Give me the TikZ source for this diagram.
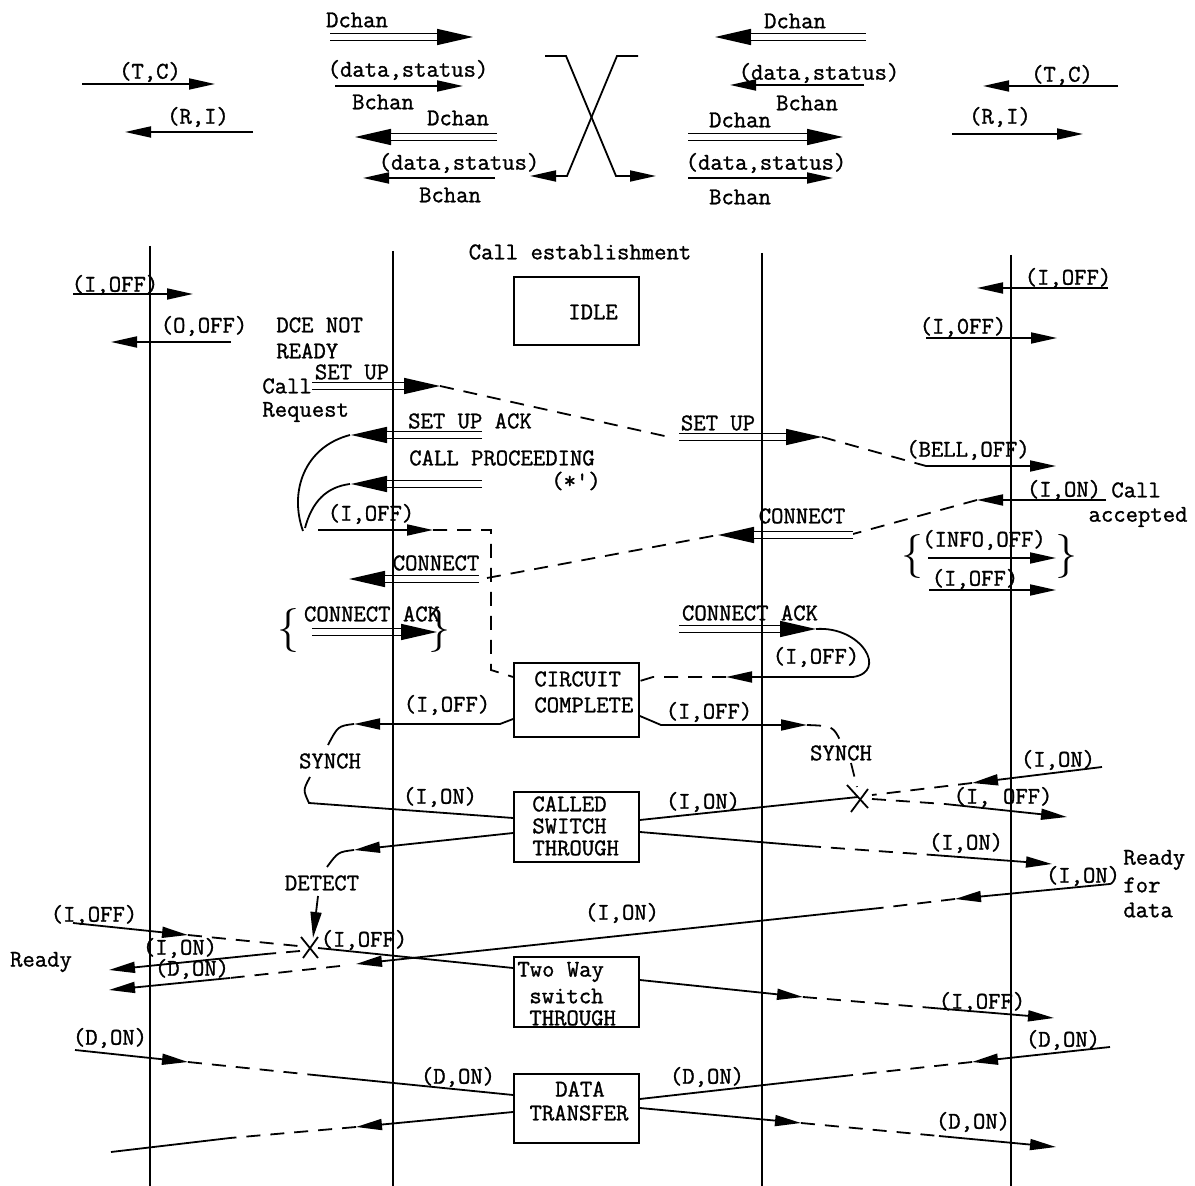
\documentclass[tikz,border=0pt]{standalone}
\usepackage{fontspec}
\newfontfamily\cour{Latin Modern Mono}[FakeBold=1.2]
\usetikzlibrary{arrows.meta,calc}
\newcommand\DA[2]{%
  \draw[dtip] ($#2!20pt!#1$) -- #2;
  \draw[dbl] #1 -- ($#2!18pt!#1$);
}
\begin{document}
\begin{tikzpicture}[x=0.5pt,y=-0.5pt,
  lbl/.style={font=\cour\fontsize{12}{12}\selectfont, inner sep=0pt},
  ln/.style={line width=0.9pt},
  ar/.style={ln,-{Triangle[length=13pt,width=5.5pt]}},
  dsh/.style={ln,dash pattern=on 7pt off 5pt},
  dbl/.style={double,double distance=2.6pt,line width=0.8pt},
  dtip/.style={line width=0.8pt,-{Triangle[length=18pt,width=8pt]}},
  box/.style={draw,line width=0.9pt,minimum width=62.5pt,inner sep=0pt},
  life/.style={line width=1pt},
  brace/.style={font=\fontsize{22}{22}\selectfont, inner sep=0pt}
]
\useasboundingbox (0,0) rectangle (1195,1186);

% ---------- legend, left ----------
\node[lbl] (tcA) at (150,72) {(T,C)};
\draw[ar] (82,84) -- (215,84);
\node[lbl] (riA) at (198,117) {(R,I)};
\draw[ar] (253,132) -- (125,132);
\node[lbl] (dchA) at (357,20) {Dchan};
\DA{(330,37)}{(473,37)}
\node[lbl] (dsA) at (408,70) {(data,status)};
\draw[ar] (335,86) -- (463,86);
\node[lbl] (bchA) at (383,102) {Bchan};
\node[lbl] (dchB) at (458,118) {Dchan};
\DA{(497,137)}{(355,137)}
\node[lbl] (dsB) at (459,163) {(data,status)};
\draw[ar] (495,178) -- (363,178);
\node[lbl] (bchB) at (450,195) {Bchan};

% crossing
\draw[ar] (545,56) -- (566,56) -- (616,176) -- (656,176);
\draw[ar] (638,56) -- (617,56) -- (567,176) -- (530,176);

% ---------- legend, right ----------
\node[lbl] (dchC) at (795,21) {Dchan};
\DA{(866,37)}{(715,37)}
\node[lbl] (dsC) at (819,73) {(data,status)};
\draw[ar] (864,85) -- (730,85);
\node[lbl] (bchC) at (807,103) {Bchan};
\node[lbl] (dchD) at (740,120) {Dchan};
\DA{(688,137)}{(843,137)}
\node[lbl] (dsD) at (766,163) {(data,status)};
\draw[ar] (688,178) -- (833,178);
\node[lbl] (bchD) at (740,197) {Bchan};
\node[lbl] (tcB) at (1062,75) {(T,C)};
\draw[ar] (1118,86) -- (983,86);
\node[lbl] (riB) at (1000,117) {(R,I)};
\draw[ar] (952,134) -- (1083,134);

% ---------- boxes ----------
\node[lbl] (title) at (580,252) {Call establishment};
\node[box,minimum height=34pt] (idle) at (576.5,311) {};
\node[lbl] at (593,312) {IDLE};
\node[box,minimum height=37pt] (circ) at (576.5,700) {};
\node[lbl,anchor=west] at (534,679) {CIRCUIT};
\node[lbl,anchor=west] at (534,705) {COMPLETE};
\node[box,minimum height=35pt] (called) at (576.5,827) {};
\node[lbl,anchor=west] at (532,804) {CALLED};
\node[lbl,anchor=west] at (532,826) {SWITCH};
\node[lbl,anchor=west] at (532,848) {THROUGH};
\node[box,minimum height=35pt] (twoway) at (576.5,992) {};
\node[lbl,anchor=west] at (517,972) {Two Way};
\node[lbl,anchor=west] at (529,996) {switch};
\node[lbl,anchor=west] at (529,1018) {THROUGH};
\node[box,minimum height=34.5pt] (data) at (576.5,1108.5) {};
\node[lbl] at (580,1089) {DATA};
\node[lbl] at (579,1113) {TRANSFER};

% ---------- left side ----------
\node[lbl] at (115,285) {(I,OFF)};
\draw[ar] (73,294) -- (193,294);
\node[lbl] at (204,326) {(O,OFF)};
\draw[ar] (231,342) -- (111,342);
\node[lbl,anchor=west] at (276,325) {DCE NOT};
\node[lbl,anchor=west] at (276,351) {READY};
\node[lbl,anchor=west] at (262,386) {Call};
\node[lbl,anchor=west] at (262,412) {Request};
\node[lbl] at (352,372) {SET UP};
\DA{(312,386)}{(440,386)}
\draw[dsh] (440,386) -- (669,437);
\node[lbl] at (470,421) {SET UP ACK};
\DA{(482,435)}{(351,435)}
\node[lbl] at (502,458) {CALL PROCEEDING};
\node[lbl] at (576,481) {(*')};
\DA{(482,484)}{(351,484)}
\draw[ln] (303,531) .. controls (289,492) and (304,447) .. (350,435);
\draw[ln] (305,528) .. controls (312,502) and (326,487) .. (350,484);
\node[lbl] at (371,514) {(I,OFF)};
\draw[ar] (318,530) -- (433,530);
\draw[dsh] (433,530) -- (491,530) -- (491,670) -- (circ.west |- 0,677);
\node[lbl] at (436,563) {CONNECT};
\DA{(479,579)}{(349,579)}
\draw[dsh] (487,578) -- (718,535);
\node[brace] at (288,631) {\{};
\node[lbl] at (372,614) {CONNECT ACK};
\DA{(312,632)}{(437,632)}
\node[brace] at (439,631) {\}};

% ---------- right side ----------
\node[lbl] at (1068,278) {(I,OFF)};
\draw[ar] (1108,288) -- (977,288);
\node[lbl] at (963,327) {(I,0FF)};
\draw[ar] (926,338) -- (1057,338);
\node[lbl] at (718,423) {SET UP};
\DA{(679,437)}{(822,437)}
\draw[dsh] (822,437) -- (926,466);
\node[lbl] at (968,450) {(BELL,OFF)};
\draw[ar] (926,466) -- (1056,466);
\node[lbl] at (1064,490) {(I,ON)};
\draw[ar] (1106,500) -- (977,500);
\node[lbl,anchor=west] at (1111,490) {Call};
\node[lbl] at (1138,517) {accepted};
\draw[dsh] (977,500) -- (853,534);
\node[lbl] at (802,516) {CONNECT};
\DA{(853,535)}{(718,535)}
\node[brace] at (912,557) {\{};
\node[lbl] at (984,540) {(INFO,OFF)};
\draw[ar] (928,558) -- (1056,558);
\node[brace] at (1066,557) {\}};
\node[lbl] at (975,579) {(I,OFF)};
\draw[ar] (929,590) -- (1056,590);
\node[lbl] at (750,613) {CONNECT ACK};
\DA{(679,629)}{(816,629)}
\draw[ln] (816,629) .. controls (862,626) and (888,672) .. (853,677);
\node[lbl] at (816,657) {(I,OFF)};
\draw[ar] (853,677) -- (726,677);
\draw[dsh] (726,677) -- (653,677) -- (circ.east |- 0,681);

% ---------- circuit complete ----------
\node[lbl] at (447,705) {(I,OFF)};
\draw[ar] (circ.west |- 0,719) -- (500,724) -- (354,724);
\draw[ln] (354,724) .. controls (338,726) .. (328,745);
\node[lbl] at (330,761) {SYNCH};
\draw[ln] (310,777) .. controls (303,790) .. (309,803) -- (called.west |- 0,818);
\node[lbl] at (440,797) {(I,ON)};

\node[lbl] at (709,712) {(I,OFF)};
\draw[ar] (circ.east |- 0,716) -- (661,725) -- (807,725);
\draw[dsh] (807,725) .. controls (833,726) .. (841,742);
\node[lbl] at (841,753) {SYNCH};
\draw[dsh] (851,763) -- (857,787);
\draw[ln] (847,785) -- (868,808);
\draw[ln] (868,789) -- (851,812);
\node[lbl] at (703,802) {(I,ON)};
\draw[ln] (called.east |- 0,820) -- (858,797);
\node[lbl] at (1058,760) {(I,ON)};
\draw[ar] (1102,767) -- (972,783);
\draw[dsh] (972,783) -- (872,795);
\draw[dsh] (872,799) -- (945,804);
\draw[ar] (945,804) -- (1067,817);
\node[lbl] at (1003,797) {(I, OFF)};

% ---------- called switch through ----------
\draw[ar] (called.west |- 0,833) -- (354,850);
\draw[ln] (354,850) .. controls (338,852) .. (327,867);
\node[lbl] at (322,883) {DETECT};
\draw[ar] (318,896) -- (313,938);
\draw[ln] (called.east |- 0,832) -- (807,846);
\draw[dsh] (807,846) -- (933,855);
\draw[ar] (933,855) -- (1052,864);
\node[lbl] at (966,843) {(I,ON)};

\node[lbl,anchor=west] at (1123,860) {Ready};
\node[lbl,anchor=west] at (1123,885) {for};
\node[lbl,anchor=west] at (1123,910) {data};
\node[lbl] at (1083,876) {(I,ON)};
\draw[ar] (1110,884) -- (955,899);
\draw[dsh] (955,899) -- (880,908);
\draw[ar] (880,908) -- (356,964);
\node[lbl] at (622,913) {(I,ON)};
\draw[dsh] (340,966) -- (230,978);
\draw[ar] (230,978) -- (109,990);

\node[lbl] at (94,915) {(I,OFF)};
\draw[ar] (73,923) -- (188,935);
\draw[dsh] (188,935) -- (298,946);
\draw[ln] (301,937) -- (318,958);
\draw[ln] (318,937) -- (303,958);
\draw[ln] (318,948) -- (twoway.west |- 0,968);
\node[lbl] at (364,940) {(I,OFF)};
\draw[dsh] (300,951) -- (266,954);
\draw[ar] (266,954) -- (109,970);
\node[lbl] at (180,948) {(I,ON)};
\node[lbl] at (192,969) {(D,ON)};
\node[lbl] at (41,962) {Ready};

% ---------- two way switch through ----------
\draw[ar] (twoway.east |- 0,980) -- (803,997);
\draw[dsh] (803,997) -- (933,1008);
\draw[ar] (933,1008) -- (1054,1018);
\node[lbl] at (982,1002) {(I,OFF)};

% ---------- data transfer ----------
\node[lbl] at (110,1038) {(D,ON)};
\draw[ar] (75,1050) -- (188,1062);
\draw[dsh] (188,1062) -- (314,1075);
\draw[ln] (314,1075) -- (data.west |- 0,1095);
\node[lbl] at (458,1077) {(D,ON)};
\draw[ar] (data.west |- 0,1112) -- (356,1127);
\draw[dsh] (356,1127) -- (230,1138);
\draw[ln] (230,1138) -- (111,1152);

\node[lbl] at (1063,1040) {(D,ON)};
\draw[ar] (1110,1047) -- (972,1062);
\draw[dsh] (972,1062) -- (853,1075);
\draw[ln] (853,1075) -- (data.east |- 0,1099);
\node[lbl] at (707,1077) {(D,ON)};
\draw[ar] (data.east |- 0,1108) -- (801,1123);
\draw[dsh] (801,1123) -- (939,1136);
\draw[ar] (939,1136) -- (1056,1147);
\node[lbl] at (973,1122) {(D,ON)};

% ---------- lifelines ----------
\coordinate (l1t) at (150,246); \coordinate (l1b) at (150,1186);
\coordinate (l2t) at (393,251); \coordinate (l2b) at (393,1186);
\coordinate (l3t) at (762,253); \coordinate (l3b) at (762,1186);
\coordinate (l4t) at (1011,255); \coordinate (l4b) at (1011,1186);
\draw[life] (l1t) -- (l1b);
\draw[life] (l2t) -- (l2b);
\draw[life] (l3t) -- (l3b);
\draw[life] (l4t) -- (l4b);
\end{tikzpicture}
\end{document}
